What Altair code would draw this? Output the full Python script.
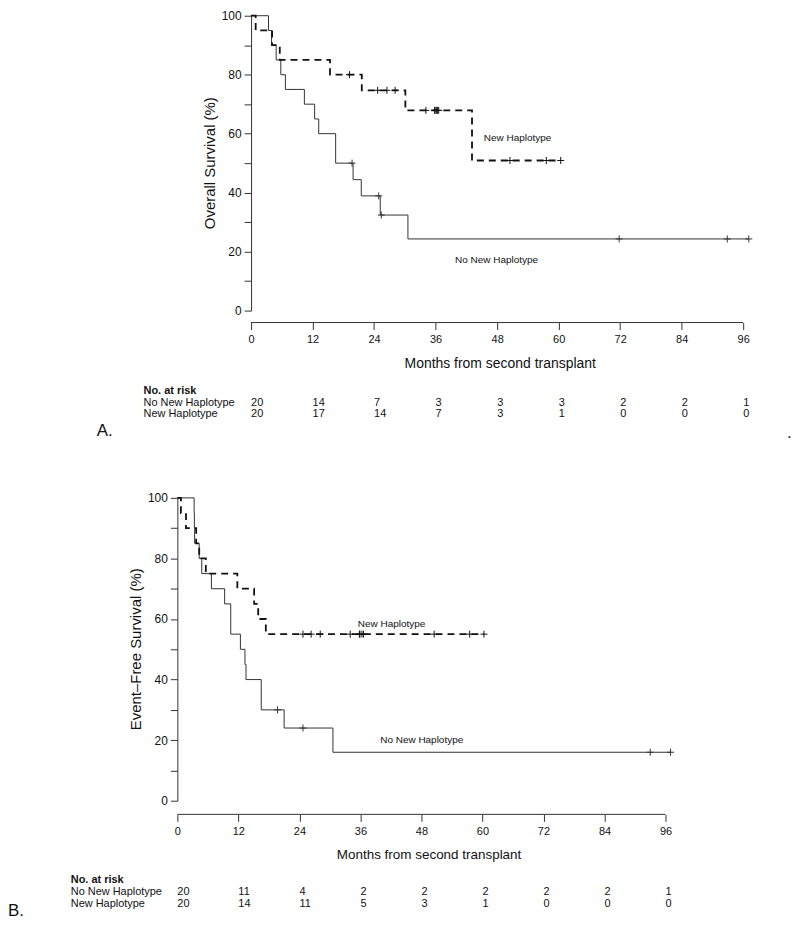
import altair as alt
import pandas as pd

FONT = "Liberation Sans"
INK = "#111111"
GREY = "#333333"

months = [0, 12, 24, 36, 48, 60, 72, 84, 96]
pct_ticks = [0, 10, 20, 30, 40, 50, 60, 70, 80, 90, 100]

# ---------------- Panel A: overall survival ----------------
os_no_time = [0, 3.4, 4.0, 4.9, 5.8, 6.7, 10.4, 12.4, 13.2, 16.5, 19.9, 21.5, 25.2, 30.6, 97.1]
os_no_surv = [100, 95, 90, 85, 80, 75, 70, 65, 60, 50, 44.4, 38.9, 32.4, 24.3, 24.3]
os_no_cens_time = [19.7, 24.9, 25.4, 71.8, 92.9, 97.1]
os_no_cens_surv = [50, 38.9, 32.4, 24.3, 24.3, 24.3]
os_new_time = [0, 0.9, 4.1, 5.6, 15.4, 21.6, 30.1, 43.1, 60.4]
os_new_surv = [100, 95, 90, 85, 80, 74.7, 67.9, 50.9, 50.9]
os_new_cens_time = [19.2, 24.7, 26.5, 28.1, 34.1, 35.8, 35.9, 36.2, 36.4, 36.6, 50.5, 57.6, 60.4]
os_new_cens_surv = [80, 74.7, 74.7, 74.7, 67.9, 67.9, 67.9, 67.9, 67.9, 67.9, 50.9, 50.9, 50.9]
os_risk_no = [20, 14, 7, 3, 3, 3, 2, 2, 1]
os_risk_new = [20, 17, 14, 7, 3, 1, 0, 0, 0]

# ---------------- Panel B: event-free survival ----------------
efs_no_time = [0, 3.3, 3.35, 3.4, 4.3, 4.8, 6.7, 9.3, 10.5, 12.4, 13.3, 13.5, 16.5, 21.0, 30.6, 97.0]
efs_no_surv = [100, 95, 90, 85, 80, 75, 70, 65, 55, 50, 45, 40, 30, 24, 16, 16]
efs_no_cens_time = [19.7, 24.7, 93.0, 97.0]
efs_no_cens_surv = [30, 24, 16, 16]
efs_new_time = [0, 0.7, 1.7, 3.7, 4.3, 5.6, 11.8, 15.1, 15.9, 17.4, 60.3]
efs_new_surv = [100, 95, 90, 85, 80, 75, 70, 65, 60, 55, 55]
efs_new_cens_time = [24.7, 26.3, 28.1, 34.0, 35.8, 35.9, 36.3, 36.6, 50.5, 57.5, 60.3]
efs_new_cens_surv = [55, 55, 55, 55, 55, 55, 55, 55, 55, 55, 55]
efs_risk_no = [20, 11, 4, 2, 2, 2, 2, 2, 1]
efs_risk_new = [20, 14, 11, 5, 3, 1, 0, 0, 0]

PLUS = "M-1,0L1,0M0,-1L0,1"


def panel(no_t, no_s, no_ct, no_cs, new_t, new_s, new_ct, new_cs, risk_no, risk_new, sp):
    xs = alt.Scale(domain=sp["xdomain"], nice=False, zero=False)
    ys = alt.Scale(domain=[0, 100], nice=False, zero=False)
    xaxis = alt.Axis(values=months, domain=False, tickSize=7, tickColor=GREY, tickWidth=1,
                     labelFont=FONT, labelFontSize=11, labelColor=INK, labelPadding=4,
                     offset=sp["xoff"], title=None, grid=False, labelFlush=False,
                     labelOverlap=False, format="d")
    yaxis = alt.Axis(values=pct_ticks, labelExpr="datum.value % 20 == 0 ? datum.label : ''",
                     domain=True, domainColor=GREY, tickSize=7, tickColor=GREY, tickWidth=1,
                     labelFont=FONT, labelFontSize=12, labelColor=INK, labelPadding=3,
                     offset=sp["yoff"], title=None, grid=False, labelFlush=False,
                     labelOverlap=False, format="d")

    def X(field=None, datum=None):
        if datum is not None:
            return alt.X(datum=datum, type="quantitative", scale=xs, axis=xaxis)
        return alt.X(field, type="quantitative", scale=xs, axis=xaxis)

    def Y(field=None, datum=None):
        if datum is not None:
            return alt.Y(datum=datum, type="quantitative", scale=ys, axis=yaxis)
        return alt.Y(field, type="quantitative", scale=ys, axis=yaxis)

    d_no = pd.DataFrame({"t": no_t, "s": no_s})
    d_new = pd.DataFrame({"t": new_t, "s": new_s})
    c_no = pd.DataFrame({"t": no_ct, "s": no_cs})
    c_new = pd.DataFrame({"t": new_ct, "s": new_cs})

    h = sp["h"]
    layers = []
    layers.append(alt.Chart(d_no).mark_line(interpolate="step-after", color=GREY, strokeWidth=1)
                  .encode(x=X("t"), y=Y("s")))
    layers.append(alt.Chart(d_new).mark_line(interpolate="step-after", color=INK, strokeWidth=1.8,
                                             strokeDash=[7, 5])
                  .encode(x=X("t"), y=Y("s")))
    layers.append(alt.Chart(c_no).mark_point(shape=PLUS, size=49, filled=False, color=GREY,
                                             strokeWidth=1, opacity=1)
                  .encode(x=X("t"), y=Y("s")))
    layers.append(alt.Chart(c_new).mark_point(shape=PLUS, size=49, filled=False, color=INK,
                                              strokeWidth=1, opacity=1)
                  .encode(x=X("t"), y=Y("s")))
    # x axis line from 0 to 96
    layers.append(alt.Chart().mark_rule(color=GREY, strokeWidth=1)
                  .encode(x=X(datum=0), x2=alt.X2(datum=96), y=alt.value(h + sp["xoff"])))
    # group labels
    for txt, (mx, my) in sp["glabels"].items():
        layers.append(alt.Chart().mark_text(font=FONT, fontSize=10, color=INK, align="left",
                                            baseline="middle")
                      .encode(x=X(datum=mx), y=Y(datum=my), text=alt.value(txt)))
    # axis titles
    layers.append(alt.Chart().mark_text(font=FONT, fontSize=15, color=INK, angle=270,
                                        baseline="middle", align="center")
                  .encode(x=alt.value(sp["ytx"]), y=alt.value(sp["yty"]), text=alt.value(sp["ytitle"])))
    layers.append(alt.Chart().mark_text(font=FONT, fontSize=sp["xts"], color=INK,
                                        baseline="middle", align="center")
                  .encode(x=X(datum=sp["xtm"]), y=alt.value(sp["xty"]),
                          text=alt.value("Months from second transplant")))
    # risk table
    layers.append(alt.Chart().mark_text(font=FONT, fontSize=11, fontWeight="bold", color=INK,
                                        align="left", baseline="middle")
                  .encode(x=alt.value(sp["tlx"]), y=alt.value(sp["ty"][0]), text=alt.value("No. at risk")))
    for lab, vals, ry in (("No New Haplotype", risk_no, sp["ty"][1]),
                          ("New Haplotype", risk_new, sp["ty"][2])):
        layers.append(alt.Chart().mark_text(font=FONT, fontSize=11, color=INK, align="left",
                                            baseline="middle")
                      .encode(x=alt.value(sp["tlx"]), y=alt.value(ry), text=alt.value(lab)))
        dfr = pd.DataFrame({"m": months, "n": vals})
        layers.append(alt.Chart(dfr).mark_text(font=FONT, fontSize=11, color=INK, align="left",
                                               baseline="middle")
                      .encode(x=X("m"), y=alt.value(ry), text=alt.Text("n:Q", format="d")))
    # panel letter
    for txt, (lx, ly) in sp["letters"]:
        layers.append(alt.Chart().mark_text(font=FONT, fontSize=17, color=INK, align="left",
                                            baseline="middle")
                      .encode(x=alt.value(lx), y=alt.value(ly), text=alt.value(txt)))
    return alt.layer(*layers).properties(width=sp["w"], height=h)


specA = dict(xdomain=[-14.38, 96], w=568, h=296, xoff=12, yoff=-74,
             glabels={"New Haplotype": (45.4, 58.5), "No New Haplotype": (39.8, 17.3)},
             ytx=33, yty=148, ytitle="Overall Survival (%)",
             xtm=48.6, xty=350, xts=14,
             tlx=-34, ty=[376.7, 388.3, 400.0],
             letters=[("A.", (-81, 417)), (".", (612, 419))])
specB = dict(xdomain=[0, 96], w=490, h=304, xoff=13.7, yoff=0,
             glabels={"New Haplotype": (35.5, 58.2), "No New Haplotype": (39.9, 20.2)},
             ytx=-41, yty=152, ytitle="Event–Free Survival (%)",
             xtm=49.5, xty=358.7, xts=13.5,
             tlx=-107, ty=[383.7, 396.0, 407.7],
             letters=[("B.", (-170, 415))])

top = panel(os_no_time, os_no_surv, os_no_cens_time, os_no_cens_surv,
            os_new_time, os_new_surv, os_new_cens_time, os_new_cens_surv,
            os_risk_no, os_risk_new, specA)
bottom = panel(efs_no_time, efs_no_surv, efs_no_cens_time, efs_no_cens_surv,
               efs_new_time, efs_new_surv, efs_new_cens_time, efs_new_cens_surv,
               efs_risk_no, efs_risk_new, specB)

chart = alt.vconcat(top, bottom, spacing=188, bounds="flush").properties(
    padding={"left": 0, "top": 0, "right": 0, "bottom": 0}
).configure_view(stroke=None)

chart.save("out.html", embed_options={"renderer": "svg", "actions": False})
